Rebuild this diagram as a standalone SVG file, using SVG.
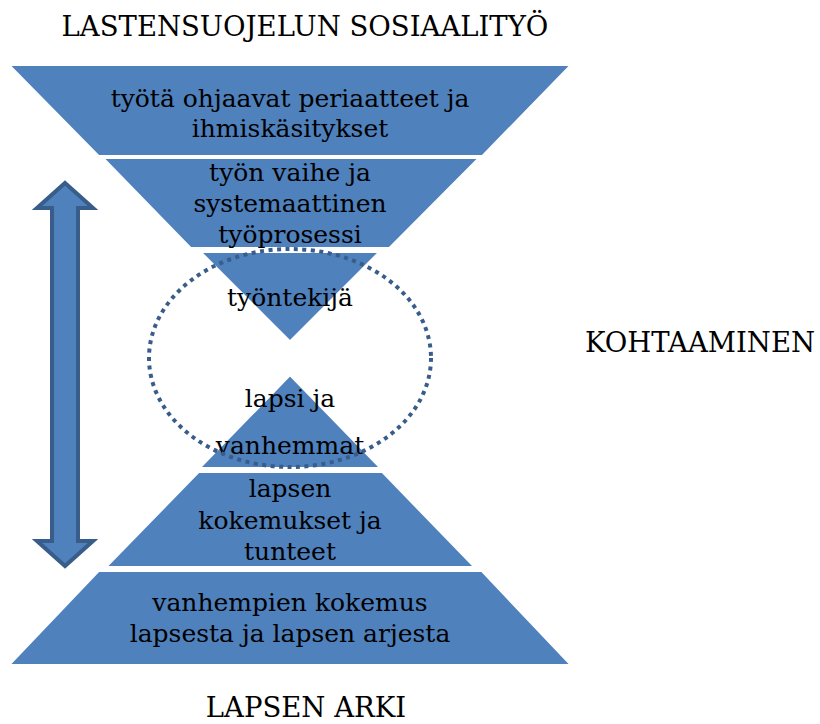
<svg xmlns="http://www.w3.org/2000/svg" width="820" height="724" viewBox="0 0 820 724">
<style>
.shape{fill:#4f81bd;stroke:#ffffff;stroke-width:3;stroke-linejoin:miter}
.t{font-family:"DejaVu Serif",serif;font-size:25px;fill:#000000;text-anchor:middle}
.c{font-size:27.5px}
.ring{fill:none;stroke:#385d8a;stroke-width:4;stroke-dasharray:4 4.5}
.arrow{fill:#4f81bd;stroke:#385d8a;stroke-width:4;stroke-linejoin:miter}
</style>
<rect width="820" height="724" fill="#ffffff"/>
<g id="labels">
<text class="t c" x="305" y="36">LASTENSUOJELUN SOSIAALITYÖ</text>
<text class="t c" x="700" y="352">KOHTAAMINEN</text>
<text class="t c" x="306" y="717">LAPSEN ARKI</text>
</g>
<g id="node-periaatteet">
<path class="shape" d="M8,64.5 H572 L482.5,156.5 H98.5 Z"/>
<text class="t" x="290" y="107">työtä ohjaavat periaatteet ja</text>
<text class="t" x="290" y="137">ihmiskäsitykset</text>
</g>
<g id="node-tyoprosessi">
<path class="shape" d="M102,157.5 H480 L389.5,248.5 H190.5 Z"/>
<text class="t" x="290" y="181">työn vaihe ja</text>
<text class="t" x="290" y="212">systemaattinen</text>
<text class="t" x="290" y="243">työprosessi</text>
</g>
<g id="node-tyontekija">
<path class="shape" d="M199.5,251.5 H380.5 L290,342 Z"/>
<text class="t" x="290" y="306">työntekijä</text>
</g>
<g id="node-lapsi">
<path class="shape" d="M290,374.5 L381.5,468.5 H198.5 Z"/>
<text class="t" x="290" y="407">lapsi ja</text>
<text class="t" x="290" y="454">vanhemmat</text>
</g>
<g id="node-kokemukset">
<path class="shape" d="M198.5,471.5 H382.5 L475.5,567.5 H105 Z"/>
<text class="t" x="290" y="497">lapsen</text>
<text class="t" x="290" y="529">kokemukset ja</text>
<text class="t" x="290" y="560">tunteet</text>
</g>
<g id="node-arki">
<path class="shape" d="M98.5,570.5 H482 L572,665.5 H8 Z"/>
<text class="t" x="290" y="611">vanhempien kokemus</text>
<text class="t" x="290" y="642">lapsesta ja lapsen arjesta</text>
</g>
<g id="node-kohtaaminen">
<ellipse class="ring" cx="290" cy="358" rx="141" ry="109"/>
</g>
<g id="connectors">
<path class="arrow" d="M65,183 L93,208 L78,208 L78,541 L93,541 L65,566 L37,541 L52,541 L52,208 L37,208 Z"/>
</g>
</svg>
